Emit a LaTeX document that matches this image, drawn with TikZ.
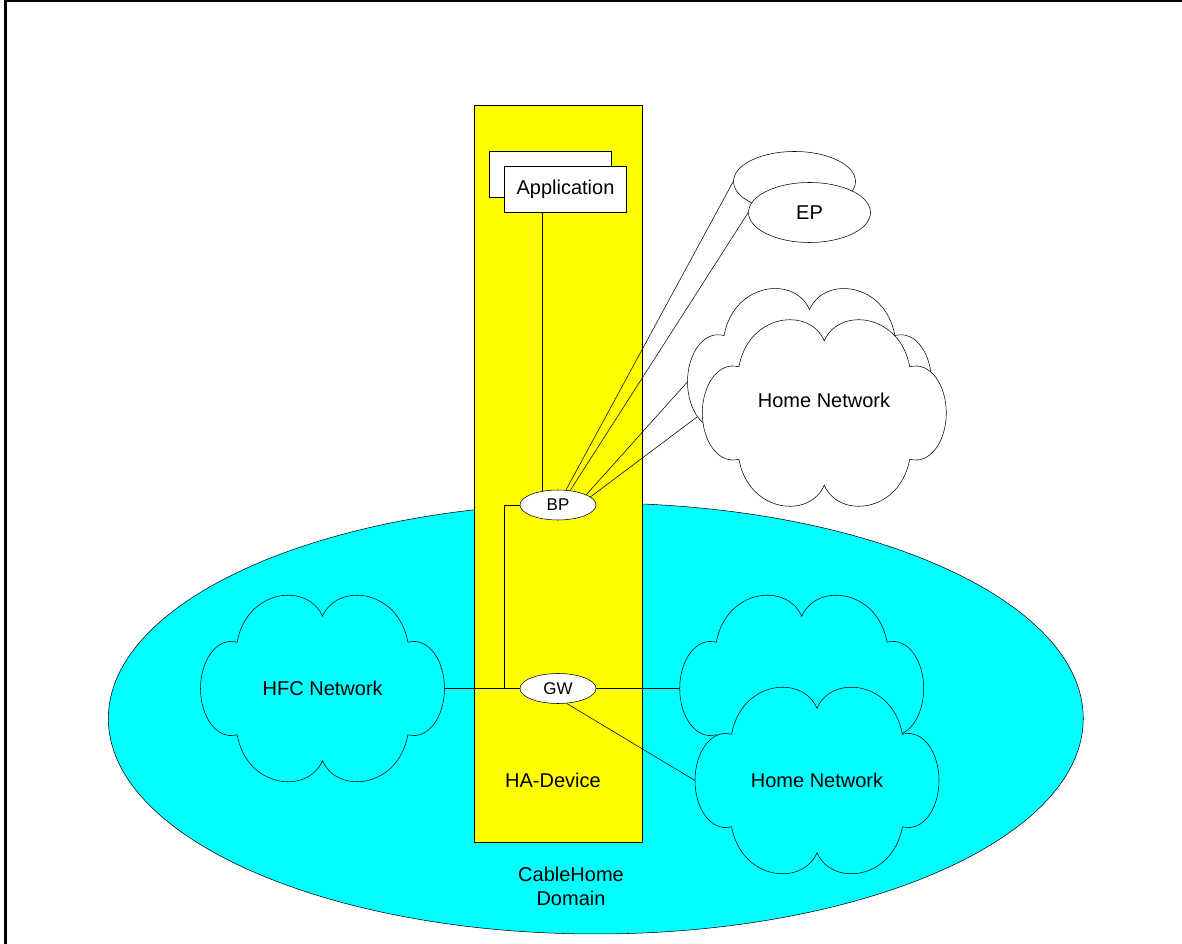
\documentclass[tikz,border=0pt]{standalone}
\usepackage{fontspec}
\setmainfont{Liberation Sans}
\usetikzlibrary{calc, positioning, shapes.geometric}
\definecolor{domaincyan}{RGB}{0,255,255}
\definecolor{deviceyellow}{RGB}{255,255,0}
\newlength\appwidth
\setlength\appwidth{91.8pt}
\newlength\appheight
\setlength\appheight{34.5pt}
\newlength\portwidth
\setlength\portwidth{57pt}
\newlength\portheight
\setlength\portheight{22.5pt}
\newlength\epwidth
\setlength\epwidth{91.5pt}
\newlength\epheight
\setlength\epheight{45pt}
\pgfdeclarelayer{bg}
\pgfdeclarelayer{wires}
\pgfsetlayers{bg,wires,main}

\begin{document}
\begin{tikzpicture}[
    x=.75pt, y=-.75pt,
    line width=.8pt,
    font=\fontsize{15}{18}\selectfont,
    cloud/.pic = {
        \path [pic actions, xscale=122, yscale=92.5]
            (-.7, .5) .. controls (-.62, 1.08) and (-.12, 1.15) .. (0, .78)
            .. controls (.12, 1.15) and (.62, 1.08) .. (.7, .5)
            .. controls (.87, .56) and (1, .3) .. (1, 0)
            .. controls (1, -.3) and (.87, -.56) .. (.7, -.5)
            .. controls (.62, -1.08) and (.12, -1.15) .. (0, -.78)
            .. controls (-.12, -1.15) and (-.62, -1.08) .. (-.7, -.5)
            .. controls (-.87, -.56) and (-1, -.3) .. (-1, 0)
            .. controls (-1, .3) and (-.87, .56) .. (-.7, .5) -- cycle;
        \coordinate (-w) at (-122, 0);
        \coordinate (-e) at (122, 0);
    },
    appbox/.style = {
        draw=black,
        fill=white,
        inner sep=0pt,
        minimum width=\appwidth,
        minimum height=\appheight,
    },
    port/.style = {
        ellipse,
        draw=black,
        fill=white,
        inner sep=0pt,
        minimum width=\portwidth,
        minimum height=\portheight,
        font=\fontsize{12.75}{15}\selectfont,
    },
    endpoint/.style = {
        ellipse,
        draw=black,
        fill=white,
        inner sep=0pt,
        minimum width=\epwidth,
        minimum height=\epheight,
    },
    wire/.style = {
        draw=black,
    },
    txt/.style = {
        inner sep=0pt,
        align=center,
    },
]
\useasboundingbox (0, 0) rectangle (1182, 944);
\begin{scope}
    \clip (0, 0) rectangle (1182, 944);
    \draw [line width=1.9pt] (5.3, 1.2) rectangle (1200, 960);
\end{scope}
\begin{pgfonlayer}{bg}
    \path [draw=black, fill=domaincyan] (595.8, 718.5) ellipse [x radius=365.6pt, y radius=161.6pt];
    \path [draw=black, fill=deviceyellow] (474, 105) rectangle (642, 842);
\end{pgfonlayer}
% application, bridge and gateway inside the device
\node [appbox] (appback) at (550.5, 174.5) {};
\node [appbox] (app) at (565.5, 189.7) {Application};
\node [port] (bp) at (558, 505) {BP};
\node [port] (gw) at (558, 688.5) {GW};
\node [txt] (hadevice) at (553, 780) {HA-Device};
% external side
\node [endpoint] (epback) at (794.5, 181.5) {};
\node [endpoint] (ep) at (809.5, 212.5) {EP};
\pic [draw=black, fill=white] (homeback) at (809.5, 381.8) {cloud};
\pic [draw=black, fill=white] (home) at (824.3, 413) {cloud};
\node [txt] (hometext) at (824, 400) {Home Network};
% domain side
\pic [draw=black, fill=domaincyan] (hfc) at (322.5, 688.5) {cloud};
\node [txt] (hfctext) at (322.7, 688.5) {HFC Network};
\pic [draw=black, fill=domaincyan] (lanback) at (801.7, 688.5) {cloud};
\pic [draw=black, fill=domaincyan] (lan) at (817, 780.5) {cloud};
\node [txt] (lantext) at (817, 780) {Home Network};
\node [txt] (domain) at (571, 886) {CableHome\\Domain};
\begin{pgfonlayer}{wires}
    \path [wire] ([xshift=-17.1pt]app.south) -- ([xshift=-17.1pt]app.south |- bp.center);
    \path [wire] (bp.62) -- (epback.west);
    \path [wire] (bp.50) -- (ep.west);
    \path [wire] (bp.20) -- (homeback-w);
    \path [wire] (bp.14) -- (home-w);
    \path [wire] (bp.west) -- ++(-15.7, 0) |- (gw.west);
    \path [wire] (hfc-e) -- (gw.west);
    \path [wire] (gw.east) -- (lanback-w);
    \path [wire] (gw.-60) -- (lan-w);
\end{pgfonlayer}
\end{tikzpicture}
\end{document}
